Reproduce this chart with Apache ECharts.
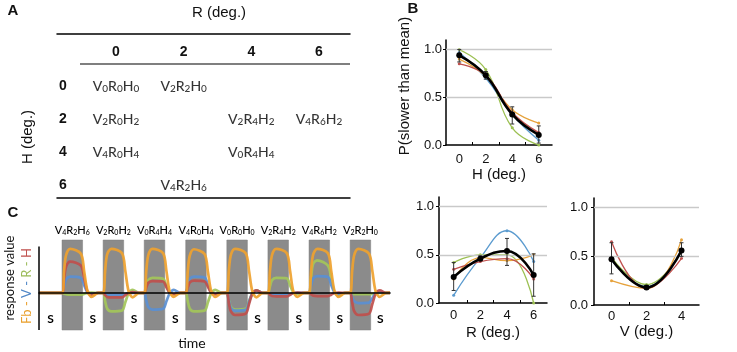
<!DOCTYPE html>
<html>
<head>
<meta charset="utf-8">
<script src="https://cdn.jsdelivr.net/npm/echarts@6.0.0/dist/echarts.min.js"></script>
<style>
  html, body { margin: 0; padding: 0; background: #fff; }
  #main { width: 737px; height: 352px; }
</style>
</head>
<body>
<div id="main"></div>
<script>
// ---- panel A: which V/R/H combination sits in which (R, H) cell
const degTicks = [0, 2, 4, 6];
const tableV = [0, 2, 2, 2, 4, 4, 0, 4];
const tableR = [0, 2, 0, 4, 6, 0, 4, 2];
const tableH = [0, 0, 2, 2, 2, 4, 4, 6];

// ---- panel B: P(slower than mean)
const hLevels = [0, 2, 4, 6];
const hMean = [0.94, 0.73, 0.32, 0.105];
const hLow = [0.87, 0.69, 0.22, 0.02];
const hHigh = [1.0, 0.77, 0.40, 0.20];
const hBlue = [0.97, 0.70, 0.32, 0.05];
const hGreen = [1.0, 0.79, 0.18, 0.0];
const hOrange = [0.90, 0.72, 0.37, 0.23];
const hRed = [0.85, 0.73, 0.34, 0.13];

const rLevels = [0, 2, 4, 6];
const rMean = [0.27, 0.46, 0.54, 0.29];
const rLow = [0.13, 0.44, 0.39, 0.07];
const rHigh = [0.42, 0.49, 0.67, 0.51];
const rBlue = [0.08, 0.47, 0.75, 0.43];
const rGreen = [0.42, 0.50, 0.50, 0.0];
const rOrange = [0.25, 0.47, 0.44, 0.50];
const rRed = [0.35, 0.43, 0.46, 0.25];

const vLevels = [0, 2, 4];
const vMean = [0.47, 0.18, 0.56];
const vLow = [0.32, 0.16, 0.50];
const vHigh = [0.64, 0.20, 0.64];
const vBlue = [0.46, 0.19, 0.57];
const vGreen = [0.49, 0.21, 0.55];
const vOrange = [0.25, 0.17, 0.67];
const vRed = [0.65, 0.17, 0.48];

const yTicksB = [0, 0.5, 1.0];
const yGridB = [0.5, 1.0];

// ---- panel C: stimulus sequence and responses
const stimV = [4, 2, 0, 4, 0, 2, 4, 2];
const stimR = [2, 0, 4, 0, 0, 4, 6, 2];
const stimH = [6, 2, 4, 4, 0, 2, 2, 0];
const stimOnset = [5.6, 15.6, 25.6, 35.7, 45.7, 55.7, 65.7, 75.7];
const stimDur = 5;
const timeEnd = 85.4;
const sampleOffsets = [0, 0.5, 1.0, 2.0, 4.6, 5.4, 6.2, 7.2, 8.8];

const fbResp = [
  [0, 0.50, 0.86, 1.00, 0.89, 0.48, 0.04, -0.09, 0],
  [0, 0.52, 0.88, 1.00, 0.90, 0.50, 0.04, -0.10, 0],
  [0, 0.50, 0.86, 1.00, 0.90, 0.50, 0.03, -0.09, 0],
  [0, 0.50, 0.85, 0.99, 0.88, 0.48, 0.04, -0.09, 0],
  [0, 0.52, 0.87, 1.00, 0.90, 0.50, 0.04, -0.10, 0],
  [0, 0.50, 0.86, 1.00, 0.90, 0.49, 0.03, -0.09, 0],
  [0, 0.50, 0.87, 1.00, 0.90, 0.50, 0.04, -0.09, 0],
  [0, 0.51, 0.86, 1.00, 0.89, 0.50, 0.04, -0.09, 0]
];
const vResp = [
  [0, 0.16, 0.31, 0.37, 0.34, 0.17, 0.01, -0.03, 0],
  [0, -0.02, -0.04, -0.04, -0.04, -0.02, 0, 0, 0],
  [0, -0.17, -0.32, -0.38, -0.36, -0.19, -0.01, 0.07, 0],
  [0, 0.17, 0.32, 0.37, 0.35, 0.18, 0.01, -0.03, 0],
  [0, -0.18, -0.34, -0.40, -0.38, -0.20, -0.01, 0.05, 0],
  [0, -0.02, -0.04, -0.05, -0.05, -0.03, 0, 0.01, 0],
  [0, 0.17, 0.33, 0.38, 0.36, 0.18, 0.01, -0.03, 0],
  [0, -0.10, -0.19, -0.23, -0.22, -0.12, 0, 0.03, 0]
];
const rResp = [
  [0, -0.02, -0.03, -0.04, -0.04, -0.02, 0, 0.01, 0],
  [0, -0.19, -0.36, -0.42, -0.40, -0.21, -0.01, 0.07, 0],
  [0, 0.15, 0.29, 0.34, 0.32, 0.16, 0.01, -0.03, 0],
  [0, -0.19, -0.36, -0.42, -0.40, -0.21, -0.01, 0.07, 0],
  [0, -0.17, -0.32, -0.38, -0.36, -0.19, -0.01, 0.06, 0],
  [0, 0.15, 0.29, 0.34, 0.33, 0.17, 0.01, -0.03, 0],
  [0, 0.35, 0.66, 0.74, 0.62, 0.33, 0.02, -0.06, 0],
  [0, -0.01, -0.03, -0.03, -0.03, -0.02, 0, 0, 0]
];
const hResp = [
  [0, 0.32, 0.60, 0.71, 0.62, 0.33, 0.03, -0.05, 0],
  [0, -0.05, -0.09, -0.10, -0.10, -0.05, 0, 0.02, 0],
  [0, 0.12, 0.23, 0.27, 0.26, 0.13, 0.01, -0.03, 0],
  [0, 0.13, 0.24, 0.28, 0.26, 0.14, 0.01, -0.03, 0],
  [0, -0.23, -0.42, -0.50, -0.47, -0.25, -0.02, 0.06, 0],
  [0, -0.04, -0.07, -0.08, -0.08, -0.04, 0, 0.01, 0],
  [0, -0.03, -0.06, -0.07, -0.07, -0.04, 0, 0.01, 0],
  [0, -0.22, -0.42, -0.50, -0.47, -0.25, -0.02, 0.06, 0]
];

const ink = '#111';
const armFont = 'Liberation Sans, Arial, sans-serif';
const subFont = 'Lato, Noto Sans, sans-serif';

// condition name with small digits, e.g. V4R2H6
function condLabel(v, r, h) {
  return '{b|V}{s|' + v + '}{b|R}{s|' + r + '}{b|H}{s|' + h + '}';
}
function condRich(big, small) {
  return {
    b: { fontFamily: subFont, fontSize: big, fontWeight: 500, color: '#000', verticalAlign: 'bottom', lineHeight: big + 2 },
    s: { fontFamily: subFont, fontSize: small, fontWeight: 500, color: '#000', verticalAlign: 'bottom', lineHeight: small }
  };
}

let myChart = echarts.init(document.getElementById('main'));

function xAxisB(grid, min, max, levels, ticks, name, gap, margin) {
  return {
    gridIndex: grid, type: 'value', min: min, max: max,
    axisLine: { onZero: false, lineStyle: { color: '#000', width: 1.5 } },
    axisTick: { show: true, inside: true, length: 3, customValues: ticks, lineStyle: { color: '#000' } },
    axisLabel: { customValues: levels, margin: margin, fontSize: 13, color: ink, fontFamily: armFont },
    splitLine: { show: false },
    name: name, nameLocation: 'middle', nameGap: gap,
    nameTextStyle: { fontSize: 15, color: ink, fontFamily: armFont }
  };
}
function yAxisB(grid, margin) {
  return {
    gridIndex: grid, type: 'value', min: 0, max: 1.1,
    axisLine: { show: true, onZero: false, lineStyle: { color: '#000', width: 1.5 } },
    axisTick: { show: true, length: 3, customValues: yTicksB, lineStyle: { color: '#000' } },
    axisLabel: { customValues: yTicksB, margin: margin, fontSize: 13, color: ink, fontFamily: armFont,
      formatter: v => v.toFixed(1) },
    splitLine: { show: false }
  };
}
function curve(xi, yi, levels, vals, color, width, size, z) {
  return {
    type: 'line', xAxisIndex: xi, yAxisIndex: yi, z: z,
    data: levels.map((x, i) => [x, vals[i]]),
    smooth: 0.45, symbol: 'circle', symbolSize: size,
    lineStyle: { color: color, width: width }, itemStyle: { color: color }
  };
}
function errorBars(xi, yi, levels, low, high) {
  return {
    type: 'custom', xAxisIndex: xi, yAxisIndex: yi, z: 6,
    data: levels.map((x, i) => [x, low[i], high[i]]),
    renderItem: (params, api) => {
      const lo = api.coord([api.value(0), api.value(1)]);
      const hi = api.coord([api.value(0), api.value(2)]);
      const st = { stroke: '#333', lineWidth: 1 };
      return {
        type: 'group', children: [
          { type: 'line', shape: { x1: lo[0], y1: lo[1], x2: hi[0], y2: hi[1] }, style: st },
          { type: 'line', shape: { x1: lo[0] - 2, y1: lo[1], x2: lo[0] + 2, y2: lo[1] }, style: st },
          { type: 'line', shape: { x1: hi[0] - 2, y1: hi[1], x2: hi[0] + 2, y2: hi[1] }, style: st }
        ]
      };
    }
  };
}
function gridLinesB(xi, yi) {
  return {
    type: 'line', xAxisIndex: xi, yAxisIndex: yi, data: [], z: 1,
    markLine: {
      silent: true, symbol: 'none', label: { show: false },
      lineStyle: { color: '#c9c9c9', width: 1.3, type: 'solid' },
      data: yGridB.map(v => ({ yAxis: v }))
    }
  };
}
function panelB(xi, yi, levels, mean, low, high, blue, green, orange, red) {
  return [
    gridLinesB(xi, yi),
    curve(xi, yi, levels, blue, '#5b9bcf', 1.3, 3, 2),
    curve(xi, yi, levels, green, '#9cc053', 1.3, 3, 2),
    curve(xi, yi, levels, orange, '#e6a23c', 1.3, 3, 2),
    curve(xi, yi, levels, red, '#c0504d', 1.3, 3, 2),
    errorBars(xi, yi, levels, low, high),
    curve(xi, yi, levels, mean, '#000', 2.6, 6, 7)
  ];
}
function trace(resp, color) {
  const data = [[0, 0]];
  stimOnset.forEach((t0, k) => {
    sampleOffsets.forEach((dt, j) => data.push([t0 + dt, resp[k][j]]));
  });
  data.push([timeEnd, 0]);
  return {
    type: 'line', xAxisIndex: 5, yAxisIndex: 4, z: 3, data: data,
    smooth: 0.3, symbol: 'none',
    lineStyle: { color: color, width: 2.7, opacity: 0.92 }
  };
}

const spontStart = [0].concat(stimOnset.map(t => t + stimDur));
const spontEnd = stimOnset.concat([timeEnd]);

myChart.setOption({
  animation: false,
  backgroundColor: '#fff',
  grid: [
    { left: 57, top: 34, width: 293, height: 164 },
    { left: 446, top: 40, width: 106, height: 105 },
    { left: 439, top: 197, width: 108, height: 106 },
    { left: 594, top: 198, width: 105, height: 107 },
    { left: 39, top: 240, width: 351, height: 90 }
  ],
  xAxis: [
    {
      gridIndex: 0, type: 'value', position: 'top', min: -1.744, max: 6.917,
      axisLine: { onZero: false, lineStyle: { color: '#000', width: 1.5 } },
      axisTick: { show: false }, splitLine: { show: false },
      axisLabel: { inside: true, margin: 11, customValues: degTicks, fontFamily: armFont,
        fontWeight: 'bold', fontSize: 14, color: ink }
    },
    {
      gridIndex: 0, type: 'value', position: 'bottom', min: -1.744, max: 6.917,
      axisLine: { onZero: false, lineStyle: { color: '#000', width: 1.5 } },
      axisTick: { show: false }, axisLabel: { show: false }, splitLine: { show: false }
    },
    xAxisB(1, -1, 7, hLevels, [1, 3, 5], 'H (deg.)', 22, 8),
    xAxisB(2, -1.1, 7, rLevels, [1, 3, 5], 'R (deg.)', 22, 6),
    xAxisB(3, -1, 5, vLevels, [1, 3], 'V (deg.)', 19, 5),
    {
      gridIndex: 4, type: 'value', min: 0, max: timeEnd, z: 10,
      axisLine: { onZero: true, lineStyle: { color: '#000', width: 1.6 } },
      axisTick: { show: false }, axisLabel: { show: false }, splitLine: { show: false }
    }
  ],
  yAxis: [
    {
      gridIndex: 0, type: 'value', inverse: true, min: -3.15, max: 6.79,
      axisLine: { show: false }, axisTick: { show: false }, splitLine: { show: false },
      axisLabel: { inside: true, margin: 2, customValues: degTicks, fontFamily: armFont,
        fontWeight: 'bold', fontSize: 14, color: ink }
    },
    yAxisB(1, 4),
    yAxisB(2, 5),
    yAxisB(3, 6),
    {
      gridIndex: 4, type: 'value', min: -0.84, max: 1.2,
      axisLine: { show: false }, axisTick: { show: false },
      axisLabel: { show: false }, splitLine: { show: false }
    }
  ],
  series: [
    // A: table of conditions
    {
      type: 'scatter', xAxisIndex: 0, yAxisIndex: 0, symbolSize: 1, z: 5,
      itemStyle: { color: 'rgba(0,0,0,0)' },
      data: tableR.map((r, i) => [r, tableH[i], tableV[i]]),
      label: {
        show: true, position: 'inside', color: '#000',
        formatter: p => condLabel(p.value[2], p.value[0], p.value[1]),
        rich: condRich(14, 10)
      },
      labelLayout: { hideOverlap: false }
    },
    // B
    ...panelB(2, 1, hLevels, hMean, hLow, hHigh, hBlue, hGreen, hOrange, hRed),
    ...panelB(3, 2, rLevels, rMean, rLow, rHigh, rBlue, rGreen, rOrange, rRed),
    ...panelB(4, 3, vLevels, vMean, vLow, vHigh, vBlue, vGreen, vOrange, vRed),
    // C: stimulus blocks, spontaneous gaps, y axis line
    {
      type: 'line', xAxisIndex: 5, yAxisIndex: 4, data: [], z: 1,
      markArea: {
        silent: true,
        itemStyle: { color: '#8b8b8b', borderColor: '#7d7d7d', borderWidth: 0.5 },
        label: { show: true, position: 'top', distance: 4, formatter: p => p.name, rich: condRich(11, 7) },
        data: stimOnset.map((t0, k) => [
          { name: condLabel(stimV[k], stimR[k], stimH[k]), xAxis: t0 },
          { xAxis: t0 + stimDur }
        ])
      }
    },
    {
      type: 'line', xAxisIndex: 5, yAxisIndex: 4, data: [], z: 1,
      markArea: {
        silent: true,
        itemStyle: { color: 'rgba(0,0,0,0)' },
        label: { show: true, position: 'insideBottom', distance: 5, formatter: 'S',
          fontFamily: subFont, fontWeight: 'bold', fontSize: 12, color: '#000' },
        data: spontStart.map((t, k) => [{ xAxis: t }, { xAxis: spontEnd[k] }])
      },
      markLine: {
        silent: true, symbol: 'none', label: { show: false },
        lineStyle: { color: '#000', width: 1.5, type: 'solid' },
        data: [[{ coord: [0, -0.84] }, { coord: [0, 1.05] }]]
      }
    },
    trace(rResp, '#a3c65a'),
    trace(vResp, '#5a8fd3'),
    trace(hResp, '#bf4f4c'),
    trace(fbResp, '#efa22f')
  ],
  graphic: [
    { type: 'text', x: 13, y: 11, style: { text: 'A', fontFamily: armFont, fontWeight: 'bold', fontSize: 15, fill: ink, align: 'center', verticalAlign: 'middle' } },
    { type: 'text', x: 413, y: 9, style: { text: 'B', fontFamily: armFont, fontWeight: 'bold', fontSize: 15, fill: ink, align: 'center', verticalAlign: 'middle' } },
    { type: 'text', x: 13, y: 213, style: { text: 'C', fontFamily: armFont, fontWeight: 'bold', fontSize: 15, fill: ink, align: 'center', verticalAlign: 'middle' } },
    { type: 'text', x: 219, y: 13, style: { text: 'R (deg.)', fontFamily: armFont, fontSize: 15, fill: ink, align: 'center', verticalAlign: 'middle' } },
    { type: 'text', x: 28, y: 137, rotation: Math.PI / 2, style: { text: 'H (deg.)', fontFamily: armFont, fontSize: 15, fill: ink, align: 'center', verticalAlign: 'middle' } },
    { type: 'line', shape: { x1: 80, y1: 64, x2: 350, y2: 64 }, style: { stroke: '#000', lineWidth: 1.1 } },
    { type: 'text', x: 405, y: 86, rotation: Math.PI / 2, style: { text: 'P(slower than mean)', fontFamily: armFont, fontSize: 15, fill: ink, align: 'center', verticalAlign: 'middle' } },
    { type: 'text', x: 10, y: 278, rotation: Math.PI / 2, style: { text: 'response value', fontFamily: subFont, fontSize: 13, fill: ink, align: 'center', verticalAlign: 'middle' } },
    {
      type: 'text', x: 27, y: 286, rotation: Math.PI / 2,
      style: {
        text: '{o|Fb -} {b|V -} {g|R -} {r|H}', fontFamily: subFont, fontSize: 13,
        align: 'center', verticalAlign: 'middle',
        rich: {
          o: { fill: '#e9a02e', fontFamily: subFont, fontSize: 13 },
          b: { fill: '#4f86c6', fontFamily: subFont, fontSize: 13 },
          g: { fill: '#9bbb59', fontFamily: subFont, fontSize: 13 },
          r: { fill: '#c0504d', fontFamily: subFont, fontSize: 13 }
        }
      }
    },
    { type: 'text', x: 192, y: 343, style: { text: 'time', fontFamily: subFont, fontSize: 14, fill: ink, align: 'center', verticalAlign: 'middle' } }
  ]
});
</script>
</body>
</html>
